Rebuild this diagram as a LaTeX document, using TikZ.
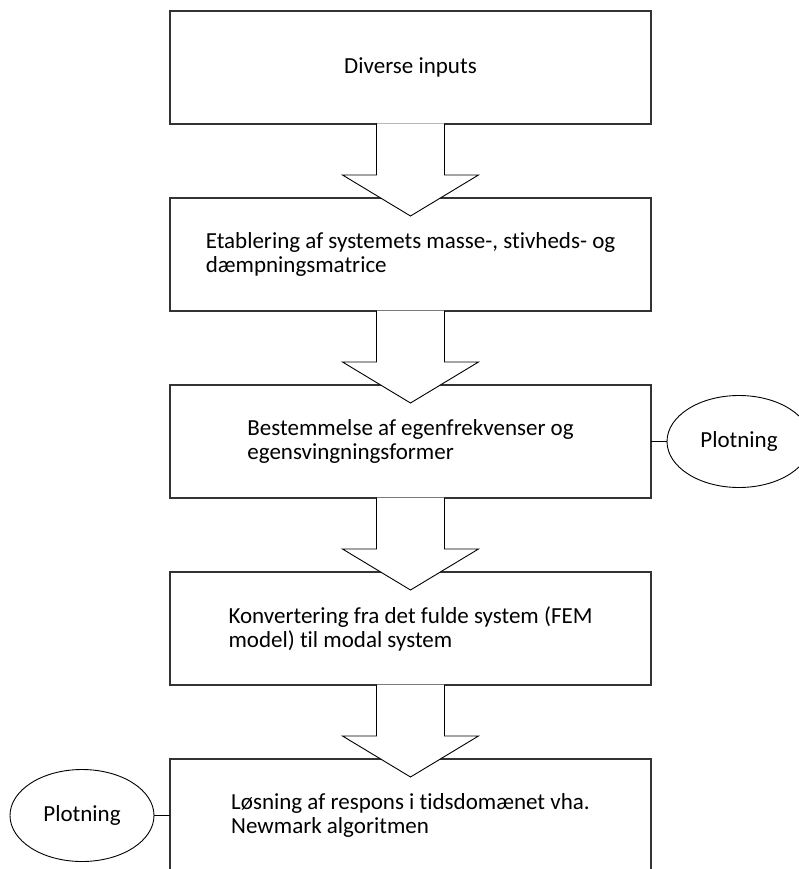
\documentclass[tikz,border=0pt]{standalone}
\usepackage{fontspec}
\setmainfont{Carlito}[Ligatures=NoCommon]
\usetikzlibrary{shapes, arrows.meta, positioning, calc}

\begin{document}
\begin{tikzpicture}[x=1pt, y=1pt,
    stepbox/.style={rectangle, draw=black!80, line width=1.1pt, minimum width=481pt, minimum height=113pt, align=left, font=\fontsize{23}{24}\selectfont, inner sep=0pt, outer sep=0pt},
    plotnode/.style={ellipse, draw, line width=0.9pt, minimum width=144pt, minimum height=92pt, font=\fontsize{23}{24}\selectfont, outer sep=0pt},
    blockarrow/.style={draw, fill=white, line width=0.9pt, line join=miter},
    connector/.style={draw, line width=0.9pt}
  ]
    \useasboundingbox (0,0) rectangle (799,-869);
    \clip (0,0) rectangle (799,-869);

    \node[stepbox] (inputs) at (410.5,-67.5) {Diverse inputs};
    \node[stepbox, below=74pt of inputs] (matrix) {Etablering af systemets masse-, stivheds- og\\dæmpningsmatrice};
    \node[stepbox, below=74pt of matrix] (modes) {Bestemmelse af egenfrekvenser og\\egensvingningsformer};
    \node[stepbox, below=74pt of modes] (modal) {Konvertering fra det fulde system (FEM\\model) til modal system};
    \node[stepbox, below=74pt of modal] (newmark) {Løsning af respons i tidsdomænet vha.\\Newmark algoritmen};

    \node[plotnode, right=16pt of modes] (plotA) {Plotning};
    \node[plotnode, left=16pt of newmark] (plotB) {Plotning};

    \draw[connector] (modes) -- (plotA);
    \draw[connector] (newmark) -- (plotB);

    % block arrows between the steps
    \foreach \a/\b in {inputs/matrix, matrix/modes, modes/modal, modal/newmark}
      \filldraw[blockarrow] ($(\a.south)+(-34,0.5)$) -- ++(0,-51.5) -- ++(-34,0)
        -- ($(\b.north)+(0,-18)$) -- ($(\a.south)+(68,-51)$) -- ++(-34,0) -- ++(0,51.5);
  \end{tikzpicture}
\end{document}
